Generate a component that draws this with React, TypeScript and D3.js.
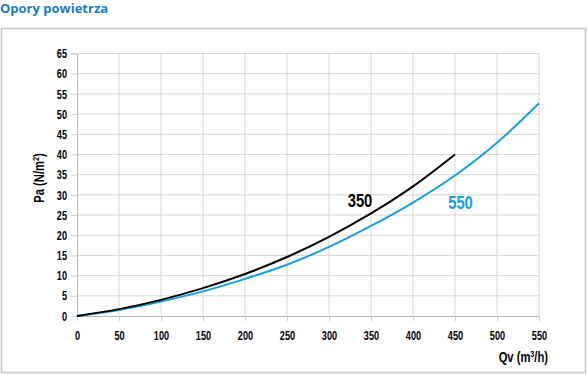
import * as React from "react";
import { select, scaleLinear, axisLeft, axisBottom, line, curveMonotoneX } from "d3";

const flowTicks = [0, 50, 100, 150, 200, 250, 300, 350, 400, 450, 500, 550];
const pressureTicks = [0, 5, 10, 15, 20, 25, 30, 35, 40, 45, 50, 55, 60, 65];

// Qv (m3/h) sampled every 50
const flow350 = [0, 50, 100, 150, 200, 250, 300, 350, 400, 450];
const pa350 = [0, 1.7, 4.0, 6.9, 10.4, 14.6, 19.6, 25.4, 32.1, 40.0];

const flow550 = [0, 50, 100, 150, 200, 250, 300, 350, 400, 450, 500, 550];
const pa550 = [0, 1.5, 3.6, 6.1, 9.2, 12.7, 17.1, 22.3, 28.1, 34.8, 42.9, 52.7];

const BLUE = "#1a9fdb";
// no narrow font installed, so bold Liberation Sans squeezed horizontally
const FONT = "'Liberation Sans', Arial, sans-serif";

function App() {
    const svgRef = React.useRef(null);

    const width = 587;
    const height = 375;
    const left = 77, right = 539, top = 53.5, bottom = 316;

    React.useEffect(() => {
        const svg = select(svgRef.current);
        const x = scaleLinear().domain([0, 550]).range([left, right]);
        const y = scaleLinear().domain([0, 65]).range([bottom, top]);

        // grid
        const grid = svg.select(".grid");
        grid.selectAll("line.h")
            .data(pressureTicks.slice(1))
            .join("line")
            .attr("class", "h")
            .attr("x1", left)
            .attr("x2", right)
            .attr("y1", d => y(d))
            .attr("y2", d => y(d))
            .attr("stroke", "#d6d6d6");
        grid.selectAll("line.v")
            .data(flowTicks.slice(1))
            .join("line")
            .attr("class", "v")
            .attr("x1", d => x(d))
            .attr("x2", d => x(d))
            .attr("y1", top)
            .attr("y2", bottom)
            .attr("stroke", "#d6d6d6");

        // axes
        const yAxis = axisLeft(y).tickValues(pressureTicks).tickSize(6).tickPadding(4);
        const yg = svg.select(".y-axis").attr("transform", `translate(${left},0)`).call(yAxis);
        const xAxis = axisBottom(x).tickValues(flowTicks).tickSize(5).tickPadding(10);
        const xg = svg.select(".x-axis").attr("transform", `translate(0,${bottom})`).call(xAxis);

        [yg, xg].forEach(g => {
            g.select(".domain").attr("stroke", "#b4b4b4");
            g.selectAll(".tick line").attr("stroke", "#d0d0d0");
            g.selectAll(".tick text")
                .attr("fill", "#000")
                .attr("textLength", function () { return this.textContent.length * 5.1; })
                .attr("lengthAdjust", "spacingAndGlyphs")
                .style("font-family", FONT)
                .style("font-weight", "bold")
                .style("font-size", "13px");
        });

        // curves
        const gen = line().x(d => x(d[0])).y(d => y(d[1])).curve(curveMonotoneX);
        svg.select(".c550")
            .attr("d", gen(flow550.map((f, i) => [f, pa550[i]])))
            .attr("fill", "none")
            .attr("stroke", BLUE)
            .attr("stroke-width", 2);
        svg.select(".c350")
            .attr("d", gen(flow350.map((f, i) => [f, pa350[i]])))
            .attr("fill", "none")
            .attr("stroke", "#000")
            .attr("stroke-width", 2);
    }, []);

    const bold = { fontFamily: FONT, fontWeight: "bold" };

    return (
        <svg ref={svgRef} width={width} height={height}
            style={{ position: "absolute", left: 0, top: 0, background: "#fff" }}>
            <text x={0} y={13} fill="#1a7cc4"
                style={{ fontFamily: "'Open Sans', sans-serif", fontWeight: 700, fontSize: "13px" }}>
                Opory powietrza
            </text>
            <rect x={1.5} y={28.5} width={584} height={344} fill="none" stroke="#c6c6c6" strokeWidth={1.5} />
            <g className="grid" />
            <g className="x-axis" />
            <g className="y-axis" />
            <path className="c550" />
            <path className="c350" />
            <text transform="translate(360,206.5) scale(0.78,1)" textAnchor="middle" fill="#000"
                style={{ ...bold, fontSize: "19px" }}>350</text>
            <text transform="translate(460.5,209) scale(0.78,1)" textAnchor="middle" fill={BLUE}
                style={{ ...bold, fontSize: "19px" }}>550</text>
            <text transform="translate(44,178) rotate(-90) scale(0.8,1)" textAnchor="middle" fill="#000"
                style={{ ...bold, fontSize: "14px" }}>
                Pa (N/m<tspan dy={-5} fontSize="9px">2</tspan><tspan dy={5}>)</tspan>
            </text>
            <text transform="translate(548,362) scale(0.8,1)" textAnchor="end" fill="#000"
                style={{ ...bold, fontSize: "14px" }}>
                Qv (m<tspan dy={-5} fontSize="9px">3</tspan><tspan dy={5}>/h)</tspan>
            </text>
        </svg>
    );
}

export default App;
